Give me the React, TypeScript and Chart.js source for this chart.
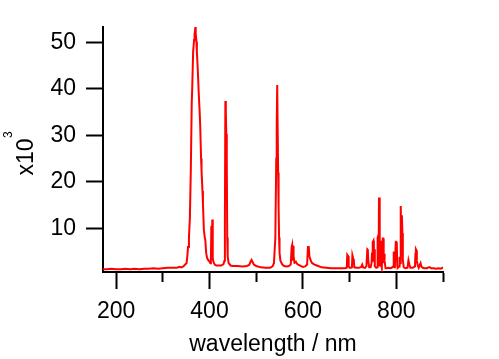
import React, { useEffect, useRef } from "react";
import { Chart, registerables } from "chart.js";

Chart.register(...registerables);

// wavelength (nm)
const wavelengths: number[] = [
  172, 180, 190, 200, 210, 220, 230, 240, 250, 260,
  270, 280, 290, 300, 310, 320, 330, 336, 340, 344,
  348, 351, 353, 354, 356, 358, 360, 362, 363, 365,
  367, 368, 369, 370, 371, 372, 373, 375, 377, 379,
  380, 382, 383, 385, 386, 388, 390, 391, 393, 395,
  397, 400, 402, 403, 404, 405, 406, 407, 409, 412,
  415, 420, 425, 430, 432, 433, 434, 435, 436, 437,
  438, 439, 441, 445, 450, 460, 470, 480, 485, 488,
  490, 492, 495, 500, 510, 520, 530, 535, 538, 541,
  543, 544, 545, 546, 547, 548, 549, 550, 552, 556,
  560, 565, 570, 574, 576, 577, 578, 579, 580, 582,
  585, 587, 590, 595, 600, 605, 609, 611, 612, 613,
  614, 617, 620, 625, 630, 640, 650, 660, 670, 680,
  690, 694, 695, 696, 697, 698, 700, 703, 705, 706,
  707, 708, 709, 710, 715, 720, 725, 727, 729, 733,
  736, 738, 739, 740, 742, 745, 747, 748, 749, 750,
  751, 752, 753, 754, 757, 759, 760, 761, 762, 763,
  764, 765, 766, 767, 769, 771, 772, 773, 774, 775,
  777, 780, 783, 786, 790, 793, 794, 795, 796, 797,
  799, 800, 801, 802, 803, 806, 807, 808, 809, 810,
  811, 812, 813, 814, 816, 820, 824, 826, 828, 830,
  835, 840, 841, 842, 843, 844, 846, 848, 850, 852,
  854, 857, 860, 865, 870, 872, 875, 880, 885, 890,
  895, 899, 900,
];

// intensity (x10^3)
const intensities: number[] = [
  1.2, 1.2, 1.3, 1.2, 1.2, 1.3, 1.2, 1.3, 1.2, 1.3,
  1.3, 1.4, 1.3, 1.4, 1.5, 1.5, 1.5, 1.7, 1.6, 1.8,
  2.2, 2.5, 4.5, 6.0, 8, 12.2, 22.4, 37, 40, 48,
  50.5, 51.6, 52.5, 53.3, 52, 50.2, 48, 44, 39, 35,
  32.5, 25, 22.4, 18, 15.4, 9.6, 8, 7.5, 4.6, 3.6,
  3.2, 2.8, 2.5, 3, 10.5, 5, 11.9, 3.5, 2.6, 2.1,
  2.0, 2.0, 2.0, 2.3, 3, 11.7, 37.4, 35, 30.3, 25,
  8, 3.9, 2.5, 2.0, 1.9, 1.9, 1.8, 1.9, 2.1, 2.8,
  3.2, 2.8, 2.2, 1.9, 1.6, 1.5, 1.5, 1.8, 2.5, 7.9,
  25, 32.5, 40.8, 40.8, 22, 14.6, 8, 4.7, 3, 2.2,
  1.9, 1.8, 1.9, 2.2, 6.0, 6.4, 3, 6.2, 4, 2.6,
  2.8, 2.4, 2.2, 1.9, 1.7, 1.8, 2.2, 6.2, 4.5, 6.0,
  4, 3.0, 2.5, 2.2, 2.0, 1.6, 1.5, 1.4, 1.4, 1.4,
  1.4, 1.5, 4.3, 4.3, 4.0, 1.8, 1.5, 1.5, 1.6, 4.2,
  4.2, 3.4, 3.2, 1.6, 1.5, 1.5, 1.7, 2.2, 1.6, 1.5,
  1.8, 5.5, 5.4, 3.0, 1.6, 1.6, 2.5, 4.8, 2.8, 7.0,
  7.3, 3, 5.5, 1.8, 1.5, 1.6, 8.0, 8.3, 2, 16.6,
  8, 1.8, 7.3, 2.5, 1.5, 7.8, 7.8, 2.5, 4.5, 3,
  1.4, 1.4, 1.5, 1.4, 1.5, 1.8, 5.0, 5.0, 1.6, 1.8,
  7.3, 4.5, 7.1, 2, 1.5, 1.8, 3.9, 2.5, 9, 14.8,
  5, 12.8, 9, 3.2, 1.6, 1.4, 1.5, 3.1, 2.2, 1.5,
  1.5, 1.8, 4.5, 5.5, 5.3, 3.0, 2.0, 1.5, 2.0, 2.5,
  1.7, 1.5, 1.4, 1.4, 1.6, 1.6, 1.4, 1.4, 1.3, 1.4,
  1.3, 1.5, 1.3,
];

const xTickValues: number[] = [200, 300, 400, 500, 600, 700, 800, 900];
const xLabelValues: number[] = [200, 400, 600, 800];
const yTickValues: number[] = [10, 20, 30, 40, 50];

const xTitle = "wavelength / nm";
const yTitleMain = "x10";
const yTitleSup = "3";

const FONT = "'Liberation Sans', Arial, sans-serif";

export default function App() {
  const canvasRef = useRef<HTMLCanvasElement | null>(null);

  useEffect(() => {
    const canvas = canvasRef.current;
    if (!canvas) return;

    const yTitlePlugin = {
      id: "yTitlePlugin",
      afterDraw(chart: any) {
        const ctx = chart.ctx;
        ctx.save();
        ctx.fillStyle = "#000";
        ctx.translate(32.5, 175.5);
        ctx.rotate(-Math.PI / 2);
        ctx.textAlign = "left";
        ctx.textBaseline = "alphabetic";
        ctx.font = `23px ${FONT}`;
        ctx.fillText(yTitleMain, 0, 0);
        const w = ctx.measureText(yTitleMain).width;
        ctx.font = `12px ${FONT}`;
        ctx.fillText(yTitleSup, w + 0.5, -20.5);
        ctx.restore();
      },
    };

    const chart = new Chart(canvas, {
      type: "line",
      data: {
        datasets: [
          {
            data: wavelengths.map((w, i) => ({ x: w, y: intensities[i] })),
            borderColor: "#ff0000",
            borderWidth: 2,
            pointRadius: 0,
            tension: 0,
            fill: false,
          },
        ],
      },
      options: {
        animation: false,
        responsive: false,
        devicePixelRatio: 1,
        layout: { padding: { top: 27, right: 56, left: 0, bottom: 0 } },
        plugins: {
          legend: { display: false },
          tooltip: { enabled: false },
        },
        scales: {
          x: {
            type: "linear",
            min: 172,
            max: 900,
            afterBuildTicks: (scale: any) => {
              scale.ticks = xTickValues.map((v) => ({ value: v }));
            },
            afterFit: (scale: any) => {
              scale.height = 87;
            },
            grid: {
              drawOnChartArea: false,
              drawTicks: true,
              tickLength: 17,
              tickWidth: 2,
              tickColor: "#000",
              tickBorderDash: (ctx: any) =>
                xLabelValues.includes(ctx.tick?.value) ? [] : [9, 100],
            },
            border: { display: true, color: "#000", width: 2 },
            ticks: {
              autoSkip: false,
              maxRotation: 0,
              padding: 9,
              color: "#000",
              font: { family: FONT, size: 23 },
              callback: (value: any) =>
                xLabelValues.includes(Number(value)) ? String(value) : "",
            },
            title: {
              display: true,
              text: xTitle,
              color: "#000",
              font: { family: FONT, size: 23 },
              padding: { top: 0, bottom: 1 },
            },
          },
          y: {
            type: "linear",
            min: 0.6,
            max: 53.3,
            afterBuildTicks: (scale: any) => {
              scale.ticks = yTickValues.map((v) => ({ value: v }));
            },
            afterFit: (scale: any) => {
              scale.width = 103;
            },
            grid: {
              drawOnChartArea: false,
              drawTicks: true,
              tickLength: 17,
              tickWidth: 2,
              tickColor: "#000",
            },
            border: { display: true, color: "#000", width: 2 },
            ticks: {
              padding: 10,
              color: "#000",
              font: { family: FONT, size: 23 },
              callback: (value: any) => String(value),
            },
          },
        },
      },
      plugins: [yTitlePlugin],
    } as any);

    return () => {
      chart.destroy();
    };
  }, []);

  return (
    <div style={{ position: "fixed", left: 0, top: 0, width: 499, height: 359, background: "#fff" }}>
      <canvas ref={canvasRef} width={499} height={359} style={{ display: "block" }} />
    </div>
  );
}
